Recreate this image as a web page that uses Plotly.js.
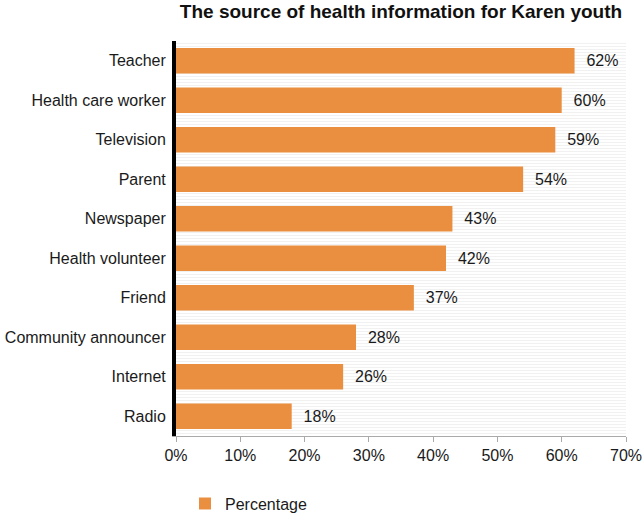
<!DOCTYPE html>
<html>
<head>
<meta charset="utf-8">
<script src="https://cdn.plot.ly/plotly-3.0.1.min.js"></script>
<style>html,body{margin:0;padding:0;background:#fff;}#chart{width:642px;height:513px;}</style>
</head>
<body>
<div id="chart"></div>
<script>
const categories = ["Teacher", "Health care worker", "Television", "Parent", "Newspaper", "Health volunteer", "Friend", "Community announcer", "Internet", "Radio"];
const percentages = [62, 60, 59, 54, 43, 42, 37, 28, 26, 18];
const xTickValues = [0, 10, 20, 30, 40, 50, 60, 70];
const xTickLabels = ["0%", "10%", "20%", "30%", "40%", "50%", "60%", "70%"];
const seriesName = "Percentage";
const chartTitle = "The source of health information for Karen youth";

const font = "Liberation Sans, Arial, sans-serif";

const bars = {
  type: "bar",
  orientation: "h",
  name: seriesName,
  y: categories,
  x: percentages,
  text: percentages.map(v => "\u00a0\u00a0" + v + "%"),
  textposition: "outside",
  textfont: {family: font, size: 16, color: "#1a1a1a"},
  cliponaxis: false,
  marker: {color: "#EA8F40"},
  hoverinfo: "skip"
};

const hatch = {
  type: "scatter",
  x: [null], y: [null],
  yaxis: "y2",
  showlegend: false,
  hoverinfo: "skip"
};

const layout = {
  width: 642, height: 513,
  margin: {l: 176, r: 16, t: 41, b: 77, autoexpand: false},
  paper_bgcolor: "#fff",
  plot_bgcolor: "#fff",
  font: {family: font, size: 16, color: "#1a1a1a"},
  title: {text: "<b>" + chartTitle + "</b>", font: {family: font, size: 19, color: "#111"}, x: 0.5, xref: "paper", xanchor: "center", y: 0.99, yanchor: "top"},
  bargap: 0.36,
  showlegend: true,
  legend: {orientation: "h", x: 0.02, xanchor: "left", y: -0.128, yanchor: "top", font: {family: font, size: 16, color: "#1a1a1a"}, itemwidth: 30},
  xaxis: {
    range: [0, 70],
    tickvals: xTickValues,
    ticktext: xTickLabels,
    showgrid: false,
    zeroline: false,
    showline: true,
    linecolor: "#aaa",
    linewidth: 1,
    ticks: "outside",
    ticklen: 5,
    tickcolor: "#aaa",
    ticklabeloverflow: "allow",
    tickfont: {family: font, size: 16, color: "#1a1a1a"},
    fixedrange: true
  },
  yaxis: {
    categoryorder: "array",
    categoryarray: categories.slice().reverse(),
    autorange: true,
    showgrid: false,
    zeroline: false,
    showline: true,
    linecolor: "#000",
    linewidth: 4,
    ticks: "",
    ticklabelstandoff: 3,
    ticklabeloverflow: "allow",
    tickfont: {family: font, size: 16, color: "#1a1a1a"},
    fixedrange: true
  },
  yaxis2: {
    overlaying: "y",
    range: [0, 1],
    dtick: 1 / 132,
    showticklabels: false,
    showgrid: true,
    gridcolor: "#f1f1f1",
    gridwidth: 1,
    zeroline: false,
    showline: false,
    fixedrange: true
  }
};

Plotly.newPlot("chart", [bars, hatch], layout, {displayModeBar: false, staticPlot: true});
</script>
</body>
</html>
